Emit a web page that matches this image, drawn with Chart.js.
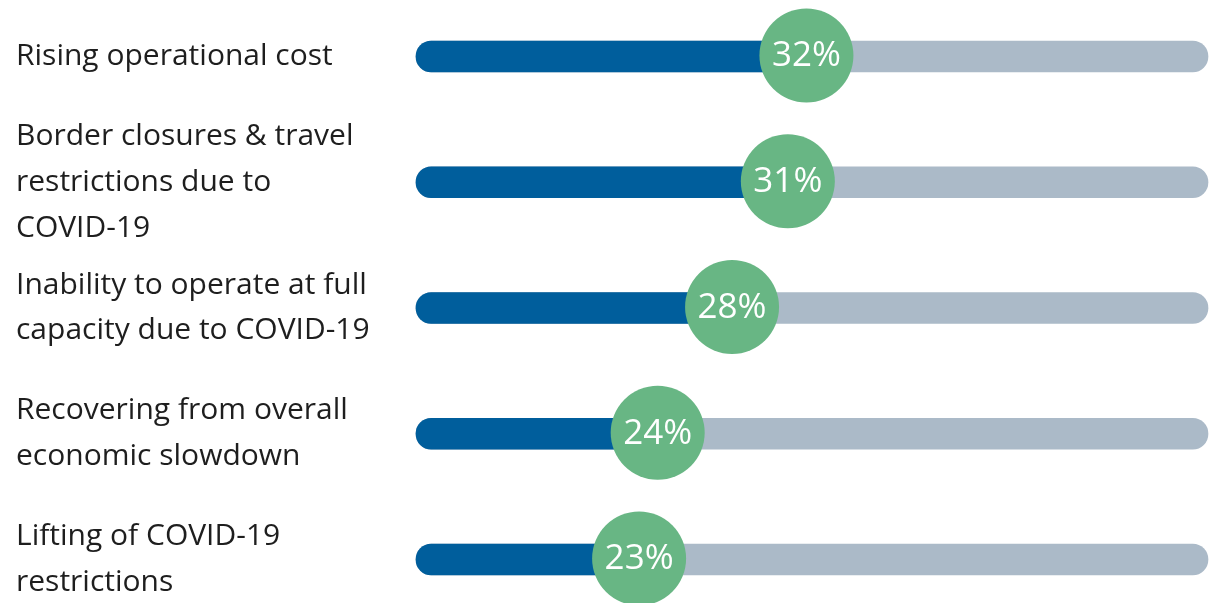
<!DOCTYPE html>
<html>
<head>
<meta charset="utf-8">
<script src="https://cdn.jsdelivr.net/npm/chart.js@4.4.1/dist/chart.umd.min.js"></script>
<style>
  html, body { margin: 0; padding: 0; background: #ffffff; }
  #wrap { width: 1209px; height: 603px; position: relative; }
</style>
</head>
<body>
<div id="wrap"><canvas id="chart"></canvas></div>
<script>
// Challenges named by respondents, with the share citing each one
const categories = [
  ['Rising operational cost'],
  ['Border closures & travel', 'restrictions due to', 'COVID-19'],
  ['Inability to operate at full', 'capacity due to COVID-19'],
  ['Recovering from overall', 'economic slowdown'],
  ['Lifting of COVID-19', 'restrictions']
];
const shares = [32, 31, 28, 24, 23];

// Range covered by the grey track behind each bar
const trackStart = 11;
const trackEnd = 53.6;
const trackValues = categories.map(() => trackEnd);

const BLUE = '#005e9c';
const GREY = '#abbac8';
const GREEN = '#68b684';
const FONT = "'Open Sans', 'Noto Sans', sans-serif";

// Green badge with the percentage, centred on the end of each blue bar
const badgePlugin = {
  id: 'badges',
  afterDatasetsDraw(chart) {
    const meta = chart.getDatasetMeta(0);
    const ctx = chart.ctx;
    ctx.save();
    meta.data.forEach((bar, i) => {
      ctx.beginPath();
      ctx.arc(bar.x, bar.y - 1, 47, 0, Math.PI * 2);
      ctx.fillStyle = GREEN;
      ctx.fill();
      ctx.fillStyle = '#ffffff';
      ctx.font = '35px ' + FONT;
      ctx.textAlign = 'center';
      ctx.textBaseline = 'middle';
      ctx.fillText(shares[i] + '%', bar.x, bar.y);
    });
    ctx.restore();
  }
};

new Chart(document.getElementById('chart'), {
  type: 'bar',
  data: {
    labels: categories,
    datasets: [
      {
        data: shares,
        base: trackStart,
        backgroundColor: BLUE,
        barThickness: 31,
        borderRadius: 16,
        borderSkipped: false,
        grouped: false,
        order: 1,
        clip: false
      },
      {
        data: trackValues,
        base: trackStart,
        backgroundColor: GREY,
        barThickness: 31,
        borderRadius: 16,
        borderSkipped: false,
        grouped: false,
        order: 2,
        clip: false
      }
    ]
  },
  options: {
    indexAxis: 'y',
    responsive: true,
    maintainAspectRatio: false,
    animation: false,
    layout: { padding: { left: 16, right: 1, top: 56.5, bottom: 43.5 } },
    plugins: { legend: { display: false }, tooltip: { enabled: false } },
    scales: {
      x: { display: false, min: trackStart, max: trackEnd },
      y: {
        offset: false,
        grid: { display: false },
        border: { display: false },
        afterFit(scale) { scale.width = 400; },
        ticks: {
          autoSkip: false,
          crossAlign: 'far',
          color: '#1e1e1e',
          font: { family: FONT, size: 30, lineHeight: 1.53 }
        }
      }
    }
  },
  plugins: [badgePlugin]
});
</script>
</body>
</html>
